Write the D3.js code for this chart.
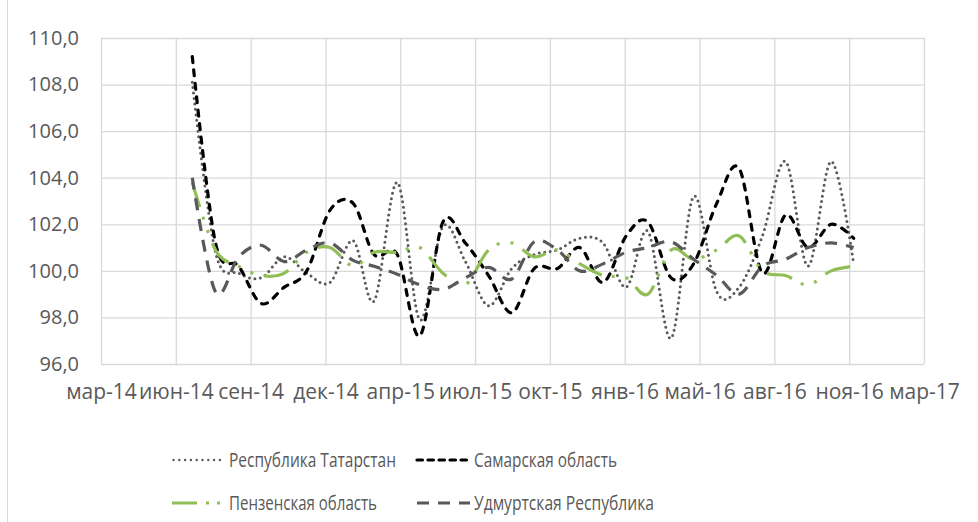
<!DOCTYPE html>
<html>
<head>
<meta charset="utf-8">
<script src="https://cdn.jsdelivr.net/npm/d3@7"></script>
<style>
  html, body { margin: 0; padding: 0; background: #fff; }
  svg { display: block; }
  text { font-family: "Open Sans", "Noto Sans", sans-serif; fill: #595959; }
</style>
</head>
<body>
<svg id="chart" width="978" height="522"></svg>
<script>
// ---- data ----
const months = ["2014-07-01","2014-08-01","2014-09-01","2014-10-01","2014-11-01","2014-12-01",
  "2015-01-01","2015-02-01","2015-03-01","2015-04-01","2015-05-01","2015-06-01",
  "2015-07-01","2015-08-01","2015-09-01","2015-10-01","2015-11-01","2015-12-01",
  "2016-01-01","2016-02-01","2016-03-01","2016-04-01","2016-05-01","2016-06-01",
  "2016-07-01","2016-08-01","2016-09-01","2016-10-01","2016-11-01","2016-12-01"];

const tatarstan = [108.1,100.8,99.9,99.7,100.6,99.9, 99.5,101.3,98.7,103.8,97.9,101.9,
  100.4,98.5,100.1,100.7,100.9,101.4, 101.2,99.3,101.7,97.1,103.2,99.1, 99.3,101.5,104.7,100.2,104.7,100.3];
const samara = [109.2,101.2,100.2,98.6,99.3,100.0, 102.6,102.9,100.7,100.7,97.2,102.1,
  101.2,99.8,98.2,100.1,100.1,101.0, 99.5,101.5,102.1,99.7,100.3,102.9, 104.4,99.9,102.4,101.0,102.0,101.4];
const penza = [103.8,100.9,100.2,99.8,99.9,100.8, 101.0,100.2,100.8,100.8,101.0,99.9,
  99.4,100.9,101.2,100.6,100.9,100.3, 99.8,99.7,99.0,100.9,100.5,100.9, 101.5,100.0,99.8,99.4,100.0,100.2];
const udmurt = [104.0,99.1,100.6,101.1,100.4,100.9, 101.2,100.45,100.2,99.85,99.4,99.2,
  99.7,100.15,99.65,101.25,100.9,100.0, 100.3,100.8,101.0,101.25,100.5,99.8, 99.0,100.2,100.5,101.0,101.2,101.0];

const seriesNames = ["Республика Татарстан","Самарская область","Пензенская область","Удмуртская Республика"];

const xTickDates = ["2014-03-01","2014-06-09","2014-09-17","2014-12-26","2015-04-05","2015-07-14",
  "2015-10-22","2016-01-30","2016-05-09","2016-08-17","2016-11-25","2017-03-05"];
const xTickLabels = ["мар-14","июн-14","сен-14","дек-14","апр-15","июл-15","окт-15","янв-16","май-16","авг-16","ноя-16","мар-17"];
const yTicks = [96,98,100,102,104,106,108,110];

// ---- setup ----
const parse = d3.utcParse("%Y-%m-%d");
const dates = months.map(parse);
const tickDates = xTickDates.map(parse);

const L = 101, R = 924, T = 38, B = 364;
const x = d3.scaleUtc().domain([tickDates[0], tickDates[tickDates.length-1]]).range([L, R]);
const y = d3.scaleLinear().domain([96, 110]).range([B, T]);

const svg = d3.select("#chart");

// chart border (left edge visible)
svg.append("rect").attr("x", 7.5).attr("y", -2).attr("width", 1200).attr("height", 600)
  .attr("fill", "none").attr("stroke", "#d9d9d9").attr("stroke-width", 1);

const gridColor = "#d9d9d9";

// horizontal gridlines
svg.append("g").attr("transform", `translate(${L},0)`)
  .call(d3.axisLeft(y).tickValues(yTicks).tickSize(-(R - L)).tickFormat(""))
  .call(g => g.select(".domain").remove())
  .call(g => g.selectAll("line").attr("stroke", gridColor).attr("stroke-width", 1.3));

// vertical gridlines
svg.append("g").attr("transform", `translate(0,${B})`)
  .call(d3.axisBottom(x).tickValues(tickDates).tickSize(-(B - T)).tickFormat(""))
  .call(g => g.select(".domain").remove())
  .call(g => g.selectAll("line").attr("stroke", gridColor).attr("stroke-width", 1.3));

// y labels
svg.append("g").attr("transform", `translate(${L},0)`)
  .call(d3.axisLeft(y).tickValues(yTicks).tickSize(0).tickPadding(22)
    .tickFormat(d => d.toFixed(1).replace(".", ",")))
  .call(g => g.select(".domain").remove())
  .call(g => g.selectAll("text").style("font-size", "20px").attr("fill", "#595959"));

// x labels
svg.append("g").attr("transform", `translate(0,${B})`)
  .call(d3.axisBottom(x).tickValues(tickDates).tickSize(0).tickPadding(20)
    .tickFormat((d, i) => xTickLabels[i]))
  .call(g => g.select(".domain").remove())
  .call(g => g.selectAll("text").style("font-size", "21px").attr("fill", "#595959"));

// ---- series ----
const styles = [
  { data: tatarstan, color: "#595959", width: 3,   dash: "0 5.5", cap: "round" },
  { data: samara,    color: "#000000", width: 3.2, dash: "6 7.5", cap: "round" },
  { data: penza,     color: "#92BE57", width: 3.2, dash: "26 10 3 11 3 11", cap: "butt" },
  { data: udmurt,    color: "#595959", width: 3.2, dash: "12 9", cap: "butt" }
];

const line = d3.line()
  .x((d, i) => x(dates[i]))
  .y(d => y(d))
  .curve(d3.curveCardinal.tension(0));

styles.forEach(s => {
  svg.append("path")
    .attr("d", line(s.data))
    .attr("fill", "none")
    .attr("stroke", s.color)
    .attr("stroke-width", s.width)
    .attr("stroke-dasharray", s.dash)
    .attr("stroke-linecap", s.cap);
});

// ---- legend ----
const legendPos = [
  { x: 172, y: 460, w: 167 }, { x: 417, y: 460, w: 143 },
  { x: 172, y: 503, w: 148 }, { x: 417, y: 503, w: 180 }
];
const legendDash = ["0 5.8", "5.5 5.5", "25 9 3 8 3 20", "12 9"];
const lg = svg.append("g").attr("class", "legend");
seriesNames.forEach((name, k) => {
  const s = styles[k], p = legendPos[k];
  const g = lg.append("g");
  g.append("line").attr("x1", p.x + (k === 0 ? 1.5 : 0)).attr("x2", p.x + 53).attr("y1", p.y).attr("y2", p.y)
    .attr("stroke", s.color).attr("stroke-width", k === 0 ? 2.4 : s.width)
    .attr("stroke-dasharray", legendDash[k])
    .attr("stroke-linecap", s.cap);
  g.append("text").attr("x", p.x + 57).attr("y", p.y).attr("dy", "0.35em")
    .attr("textLength", p.w).attr("lengthAdjust", "spacingAndGlyphs")
    .style("font-size", "20px").text(name);
});
</script>
</body>
</html>
